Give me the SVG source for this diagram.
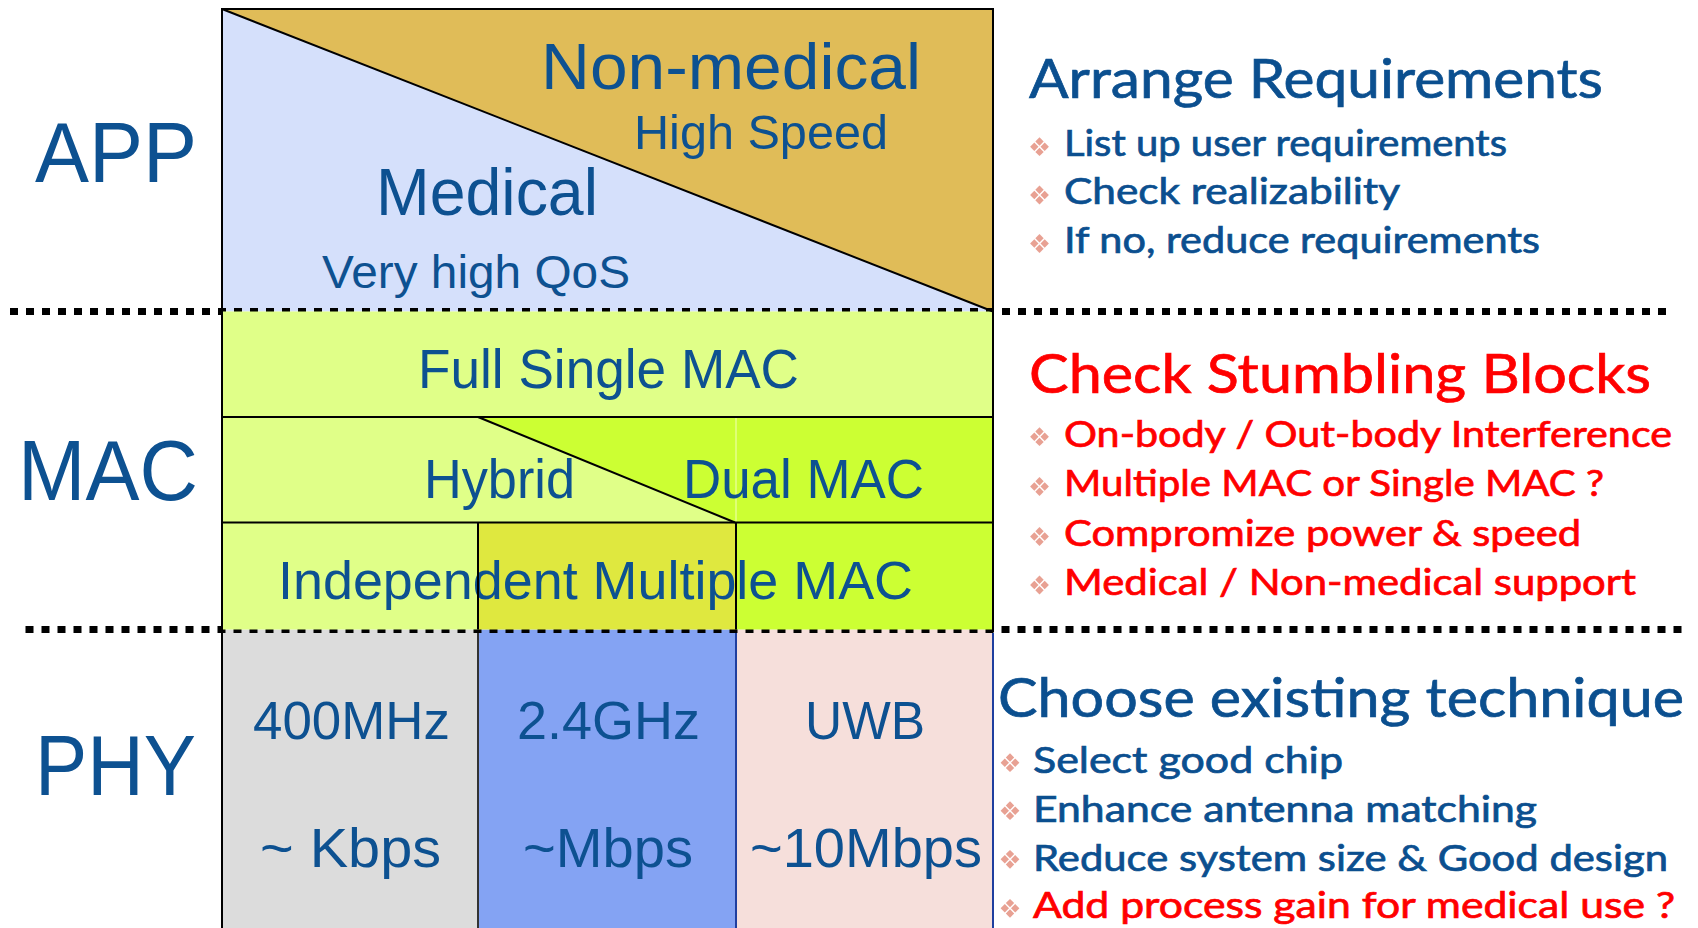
<svg xmlns="http://www.w3.org/2000/svg" xmlns:xlink="http://www.w3.org/1999/xlink" width="1698" height="928" viewBox="0 0 1698 928">
<style>
.lbl{font-family:"Liberation Sans",Arial,sans-serif;fill:#0d5191;}
.big{font-size:86px;}
.rt{font-family:Lato,"Open Sans",sans-serif;fill:#0b4f8f;stroke:#0b4f8f;stroke-width:0.7;}
.red{fill:#ff0000;stroke:#ff0000;}
.ttl{font-size:55px;}
.itm{font-size:36px;}
.edge{fill:none;stroke:#000;stroke-width:2;}
.sep{fill:none;stroke:#000;stroke-width:7;stroke-dasharray:8 8;}
</style>
<defs>
<g id="bul" fill="#e8a193">
<path d="M0,-9.4 L4.2,-5.2 L0,-1 L-4.2,-5.2Z"/>
<path d="M5.2,-4.2 L9.4,0 L5.2,4.2 L1,0Z"/>
<path d="M0,1 L4.2,5.2 L0,9.4 L-4.2,5.2Z"/>
<path d="M-5.2,-4.2 L-1,0 L-5.2,4.2 L-9.4,0Z"/>
</g>
</defs>
<rect width="1698" height="928" fill="#ffffff"/>

<!-- APP layer -->
<g id="app-medical">
<polygon points="222,9 222,311.5 993,311.5" fill="#d5e0fb"/>
<text class="lbl" x="376" y="215" font-size="66" textLength="222" lengthAdjust="spacingAndGlyphs">Medical</text>
<text class="lbl" x="322" y="288" font-size="47" textLength="308" lengthAdjust="spacingAndGlyphs">Very high QoS</text>
</g>
<g id="app-nonmedical">
<polygon points="222,9 993,9 993,311.5" fill="#e0bc58"/>
<text class="lbl" x="541" y="89" font-size="65" textLength="380" lengthAdjust="spacingAndGlyphs">Non-medical</text>
<text class="lbl" x="634" y="149" font-size="48" textLength="254" lengthAdjust="spacingAndGlyphs">High Speed</text>
</g>

<!-- PHY layer -->
<g id="phy-400mhz">
<rect x="222" y="629.5" width="256" height="300" fill="#dcdcdc"/>
<text class="lbl" x="253" y="739" font-size="53" textLength="197" lengthAdjust="spacingAndGlyphs">400MHz</text>
<text class="lbl" x="260" y="867" font-size="55" textLength="181" lengthAdjust="spacingAndGlyphs">~ Kbps</text>
</g>
<g id="phy-24ghz">
<rect x="478" y="629.5" width="258" height="300" fill="#84a3f3"/>
<text class="lbl" x="517" y="739" font-size="53" textLength="183" lengthAdjust="spacingAndGlyphs">2.4GHz</text>
<text class="lbl" x="523" y="867" font-size="55" textLength="170" lengthAdjust="spacingAndGlyphs">~Mbps</text>
</g>
<g id="phy-uwb">
<rect x="736" y="629.5" width="257" height="300" fill="#f6dfdb"/>
<text class="lbl" x="805" y="739" font-size="53" textLength="120" lengthAdjust="spacingAndGlyphs">UWB</text>
<text class="lbl" x="750" y="867" font-size="55" textLength="232" lengthAdjust="spacingAndGlyphs">~10Mbps</text>
</g>

<!-- layer separators -->
<g id="separators">
<line class="sep" x1="10" y1="311.5" x2="1668" y2="311.5"/>
<line class="sep" x1="25.5" y1="629.5" x2="1682" y2="629.5"/>
</g>

<!-- MAC layer -->
<g id="mac-full-single">
<rect x="222" y="311.5" width="771" height="105.5" fill="#e0ff88"/>
<text class="lbl" x="418" y="388" font-size="55" textLength="381" lengthAdjust="spacingAndGlyphs">Full Single MAC</text>
</g>
<g id="mac-hybrid">
<rect x="222" y="417" width="771" height="105.5" fill="#e0ff88"/>
<text class="lbl" x="424" y="498" font-size="55" textLength="151" lengthAdjust="spacingAndGlyphs">Hybrid</text>
</g>
<g id="mac-dual">
<polygon points="478,417 993,417 993,522.5 735,522.5" fill="#ccff33"/>
<line x1="736" y1="418" x2="736" y2="521.5" stroke="#e6ff8c" stroke-width="1.5"/>
<text class="lbl" x="683" y="498" font-size="55" textLength="241" lengthAdjust="spacingAndGlyphs">Dual MAC</text>
</g>
<g id="mac-independent">
<rect x="222" y="522.5" width="256" height="107" fill="#e0ff88"/>
<rect x="478" y="522.5" width="258" height="107" fill="#dfe83f"/>
<rect x="736" y="522.5" width="257" height="107" fill="#ccff33"/>
<text class="lbl" x="278" y="599" font-size="53" textLength="635" lengthAdjust="spacingAndGlyphs">Independent Multiple MAC</text>
</g>

<!-- cell borders -->
<g id="borders">
<line x1="222" y1="9" x2="993" y2="311.5" stroke="#000" stroke-width="2"/>
<line x1="478" y1="417" x2="735" y2="522.5" stroke="#000" stroke-width="2"/>
<line class="edge" x1="222" y1="417" x2="993" y2="417"/>
<line class="edge" x1="222" y1="522.5" x2="993" y2="522.5"/>
<line class="edge" x1="478" y1="522.5" x2="478" y2="629.5"/>
<line class="edge" x1="736" y1="522.5" x2="736" y2="629.5"/>
<line x1="478" y1="633" x2="478" y2="928" stroke="#333" stroke-width="2"/>
<line x1="736" y1="633" x2="736" y2="928" stroke="#1f3f9f" stroke-width="2"/>
<line x1="993" y1="633" x2="993" y2="928" stroke="#1f3f9f" stroke-width="2"/>
<line class="edge" x1="221" y1="9" x2="994" y2="9"/>
<line class="edge" x1="222" y1="8" x2="222" y2="928"/>
<line class="edge" x1="993" y1="8" x2="993" y2="632"/>
</g>

<!-- layer labels -->
<g id="label-app"><text class="lbl big" x="35" y="182" textLength="162" lengthAdjust="spacingAndGlyphs">APP</text></g>
<g id="label-mac"><text class="lbl big" x="18" y="500" textLength="180" lengthAdjust="spacingAndGlyphs">MAC</text></g>
<g id="label-phy"><text class="lbl big" x="35" y="795" textLength="161" lengthAdjust="spacingAndGlyphs">PHY</text></g>

<!-- right-side notes -->
<g id="note-arrange">
<text class="rt ttl" x="1029" y="98" textLength="574" lengthAdjust="spacingAndGlyphs">Arrange Requirements</text>
<use xlink:href="#bul" x="1039.5" y="146.7"/>
<use xlink:href="#bul" x="1039.5" y="195"/>
<use xlink:href="#bul" x="1039.5" y="243.5"/>
<text class="rt itm" x="1064" y="156" textLength="443" lengthAdjust="spacingAndGlyphs">List up user requirements</text>
<text class="rt itm" x="1064" y="204" textLength="336" lengthAdjust="spacingAndGlyphs">Check realizability</text>
<text class="rt itm" x="1064" y="253" textLength="476" lengthAdjust="spacingAndGlyphs">If no, reduce requirements</text>
</g>
<g id="note-stumbling">
<text class="rt ttl red" x="1029" y="393" textLength="622" lengthAdjust="spacingAndGlyphs">Check Stumbling Blocks</text>
<use xlink:href="#bul" x="1039.5" y="436.7"/>
<use xlink:href="#bul" x="1039.5" y="486.5"/>
<use xlink:href="#bul" x="1039.5" y="536.5"/>
<use xlink:href="#bul" x="1039.5" y="585"/>
<text class="rt itm red" x="1064" y="446.5" textLength="608" lengthAdjust="spacingAndGlyphs">On-body / Out-body Interference</text>
<text class="rt itm red" x="1064" y="496" textLength="540" lengthAdjust="spacingAndGlyphs">Multiple MAC or Single MAC ?</text>
<text class="rt itm red" x="1064" y="545.5" textLength="517" lengthAdjust="spacingAndGlyphs">Compromize power &amp; speed</text>
<text class="rt itm red" x="1064" y="595" textLength="572" lengthAdjust="spacingAndGlyphs">Medical / Non-medical support</text>
</g>
<g id="note-choose">
<text class="rt ttl" x="998" y="716.5" textLength="686" lengthAdjust="spacingAndGlyphs">Choose existing technique</text>
<use xlink:href="#bul" x="1010" y="762.7"/>
<use xlink:href="#bul" x="1010" y="810.7"/>
<use xlink:href="#bul" x="1010" y="859.3"/>
<use xlink:href="#bul" x="1010" y="908.3"/>
<text class="rt itm" x="1033" y="772.5" textLength="310" lengthAdjust="spacingAndGlyphs">Select good chip</text>
<text class="rt itm" x="1033" y="821.5" textLength="504" lengthAdjust="spacingAndGlyphs">Enhance antenna matching</text>
<text class="rt itm" x="1033" y="870.5" textLength="635" lengthAdjust="spacingAndGlyphs">Reduce system size &amp; Good design</text>
<text class="rt itm red" x="1033" y="918.3" textLength="642" lengthAdjust="spacingAndGlyphs">Add process gain for medical use ?</text>
</g>
</svg>
